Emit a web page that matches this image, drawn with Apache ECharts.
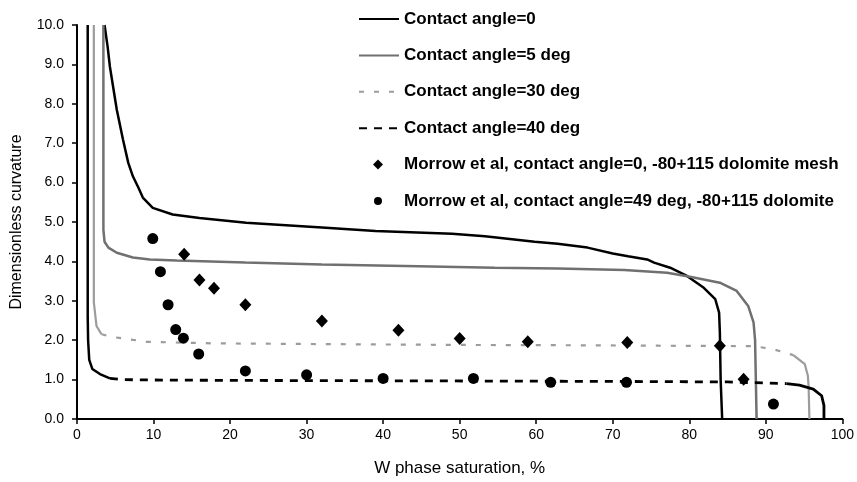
<!DOCTYPE html>
<html>
<head>
<meta charset="utf-8">
<script src="https://cdn.jsdelivr.net/npm/echarts@6/dist/echarts.min.js"></script>
<style>
  html, body { margin: 0; padding: 0; background: #fff; }
  #chart { width: 857px; height: 482px; }
</style>
</head>
<body>
<div id="chart"></div>
<script>
// curve data: [saturation %, dimensionless curvature]
const angle0 = [
  [3.6, 10], [4.0, 9.45], [4.3, 8.94], [5.2, 7.85], [6.0, 7.1], [6.7, 6.5], [7.3, 6.16],
  [8.0, 5.88], [8.6, 5.62], [9.9, 5.36], [12.5, 5.19], [16, 5.1], [22.1, 4.98], [32, 4.86],
  [39, 4.77], [49, 4.7], [53.3, 4.64], [59.8, 4.5], [62.8, 4.45], [66.7, 4.35], [70, 4.2],
  [72, 4.13], [74.5, 4.05], [75.4, 3.97], [77.5, 3.84], [79.7, 3.63], [81.9, 3.33],
  [83.4, 3.04], [83.9, 2.7], [84.0, 2.19], [84.1, 1.0], [84.3, 0]
]
const angle5 = [
  [3.45, 10], [3.45, 4.8], [3.6, 4.5], [4.1, 4.35], [5.2, 4.22], [7.3, 4.1], [9.5, 4.05],
  [13, 4.02], [22, 3.97], [32, 3.92], [44.6, 3.88], [54.6, 3.84], [62.8, 3.82], [71.5, 3.78],
  [77.1, 3.71], [80.1, 3.61], [84.0, 3.46], [86.2, 3.25], [87.7, 2.87], [88.4, 2.45],
  [88.6, 2.0], [88.8, 0]
]
// 30 deg: steep ends drawn solid, flat middle dashed
const angle30Left = [[2.2, 10], [2.2, 2.96], [2.55, 2.36], [3.2, 2.15]]
const angle30Mid = [
  [3.2, 2.15], [4.7, 2.08], [9.1, 1.96], [17.7, 1.92], [33, 1.9], [50, 1.88], [66.7, 1.87],
  [75.8, 1.86], [88.4, 1.85], [91, 1.77], [93.6, 1.62]
]
const angle30Right = [[93.6, 1.62], [95.1, 1.39], [95.5, 1.1], [95.6, 0.8], [95.7, 0]]
// 40 deg
const angle40Left = [[1.4, 10], [1.4, 2.6], [1.45, 2.0], [1.6, 1.5], [2.0, 1.27], [3.0, 1.14], [4.3, 1.03]]
const angle40Mid = [
  [4.3, 1.03], [6, 1.0], [10, 0.99], [20, 0.98], [40, 0.97], [60, 0.96], [75, 0.95],
  [85, 0.94], [92.7, 0.9]
]
const angle40Right = [[92.7, 0.9], [94.4, 0.86], [96.2, 0.76], [97.3, 0.59], [97.6, 0.34], [97.6, 0]]

// Morrow et al measurements
const morrowMesh = [
  [14, 4.18], [16, 3.53], [17.9, 3.32], [22, 2.9], [32, 2.49], [42, 2.25], [50, 2.04],
  [58.9, 1.96], [71.9, 1.94], [84, 1.86], [87.1, 1.01]
]
const morrow49 = [
  [9.9, 4.58], [10.9, 3.74], [11.9, 2.9], [12.9, 2.27], [13.9, 2.05], [15.9, 1.65], [22, 1.22],
  [30, 1.12], [40, 1.03], [51.8, 1.03], [61.9, 0.93], [71.8, 0.93], [91, 0.38]
]

const legendNames = [
  'Contact angle=0',
  'Contact angle=5 deg',
  'Contact angle=30 deg',
  'Contact angle=40 deg',
  'Morrow et al, contact angle=0, -80+115 dolomite mesh',
  'Morrow et al, contact angle=49 deg, -80+115 dolomite'
]

const font = '"Liberation Sans", Arial, sans-serif'
const chart = echarts.init(document.getElementById('chart'))

const lineSeries = (name, data, color, width, type) => ({
  name,
  type: 'line',
  data,
  symbol: 'none',
  smooth: false,
  lineStyle: { color, width, type },
  itemStyle: { color },
  z: 2
})

// line entries: hide the marker that the legend puts on line icons
const legendData = legendNames.map((name, i) => {
  if (i < 4) return { name, itemStyle: { opacity: 0 } }
  if (i === 4) return { name, icon: 'path://M0,0M40,10M19,0L24,5L19,10L14,5Z' }
  return { name, icon: 'path://M0,0M40,10M19,1A4,4,0,1,1,18.99,1Z' }
})

const option = {
  animation: false,
  backgroundColor: '#fff',
  textStyle: { fontFamily: font },
  grid: { left: 77, right: 11, top: 25, bottom: 62 },
  legend: {
    data: legendData,
    orient: 'vertical',
    left: 353,
    top: 4,
    itemWidth: 40,
    itemHeight: 10,
    itemGap: 16.4,
    selectedMode: false,
    textStyle: { fontFamily: font, fontSize: 17, fontWeight: 'bold', color: '#000', lineHeight: 20 }
  },
  xAxis: {
    type: 'value',
    min: 0,
    max: 100,
    interval: 10,
    name: 'W phase saturation, %',
    nameLocation: 'middle',
    nameGap: 41,
    nameTextStyle: { fontFamily: font, fontSize: 17, color: '#000' },
    axisLine: { show: true, lineStyle: { color: '#000', width: 2 } },
    axisTick: { show: true, length: 5, lineStyle: { color: '#000', width: 1.5 } },
    axisLabel: { fontFamily: font, fontSize: 14, color: '#000', margin: 9 },
    splitLine: { show: false }
  },
  yAxis: {
    type: 'value',
    min: 0,
    max: 10,
    interval: 1,
    name: 'Dimensionless curvature',
    nameLocation: 'middle',
    nameGap: 52,
    nameTextStyle: { fontFamily: font, fontSize: 16, color: '#000' },
    axisLine: { show: true, lineStyle: { color: '#000', width: 2 } },
    axisTick: { show: true, length: 5, lineStyle: { color: '#000', width: 1.5 } },
    axisLabel: { fontFamily: font, fontSize: 14, color: '#000', margin: 13, formatter: v => v.toFixed(1) },
    splitLine: { show: false }
  },
  series: [
    lineSeries(legendNames[0], angle0, '#000', 2.5, 'solid'),
    lineSeries(legendNames[1], angle5, '#707070', 2.5, 'solid'),
    lineSeries(legendNames[2], angle30Mid, '#9c9c9c', 2.2, [5, 10]),
    lineSeries('angle30 left', angle30Left, '#9c9c9c', 2.2, 'solid'),
    lineSeries('angle30 right', angle30Right, '#9c9c9c', 2.2, 'solid'),
    lineSeries(legendNames[3], angle40Mid, '#000', 2.8, [8, 7]),
    lineSeries('angle40 left', angle40Left, '#000', 2.5, 'solid'),
    lineSeries('angle40 right', angle40Right, '#000', 2.8, 'solid'),
    {
      name: legendNames[4],
      type: 'scatter',
      data: morrowMesh,
      symbol: 'diamond',
      symbolSize: [12, 13],
      itemStyle: { color: '#000', opacity: 1 },
      z: 3
    },
    {
      name: legendNames[5],
      type: 'scatter',
      data: morrow49,
      symbol: 'circle',
      symbolSize: 11,
      itemStyle: { color: '#000', opacity: 1 },
      z: 3
    }
  ]
}

chart.setOption(option)
</script>
</body>
</html>
